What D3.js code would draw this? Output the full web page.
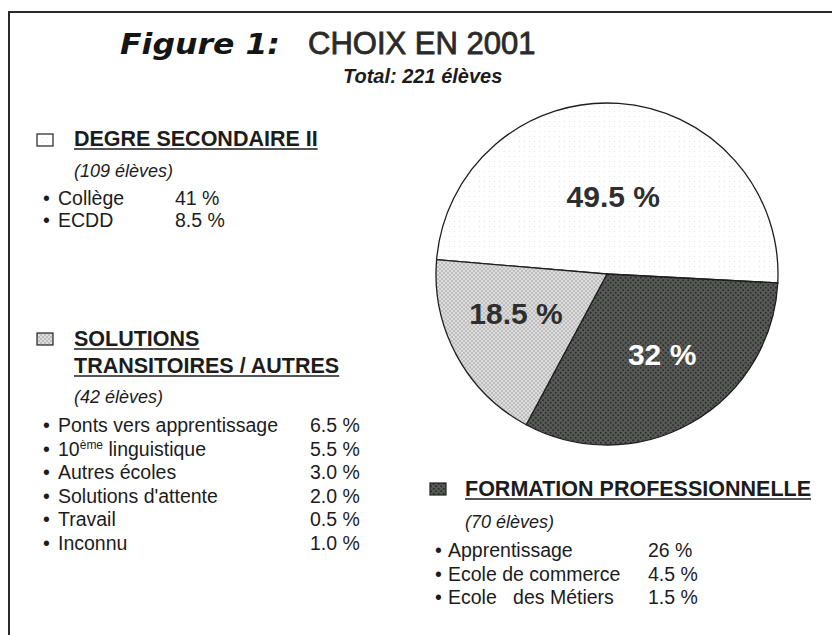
<!DOCTYPE html>
<html>
<head>
<meta charset="utf-8">
<script src="https://cdn.jsdelivr.net/npm/d3@7"></script>
<style>
  body { margin: 0; background: #fff; }
  svg text { font-family: "Liberation Sans", Arial, sans-serif; fill: #1c1c1c; }
</style>
</head>
<body>
<div class="pie-chart"></div>
<script>
// pie slices (clockwise from the secondary-school slice)
const groups = ["secondaire", "professionnelle", "transitoires"];
const shares = [49.5, 32, 18.5];
const shareLabels = ["49.5 %", "32 %", "18.5 %"];

// legend headings and student counts
const headings = [["DEGRE SECONDAIRE II"], ["FORMATION PROFESSIONNELLE"], ["SOLUTIONS", "TRANSITOIRES / AUTRES"]];
const counts = ["(109 élèves)", "(70 élèves)", "(42 élèves)"];

// detail lines per group
const secItems = ["Collège", "ECDD"];
const secValues = ["41 %", "8.5 %"];
const proItems = ["Apprentissage", "Ecole de commerce", "Ecole   des Métiers"];
const proValues = ["26 %", "4.5 %", "1.5 %"];
const traItems = ["Ponts vers apprentissage", "10ème linguistique", "Autres écoles", "Solutions d'attente", "Travail", "Inconnu"];
const traValues = ["6.5 %", "5.5 %", "3.0 %", "2.0 %", "0.5 %", "1.0 %"];

const svg = d3.select(".pie-chart").append("svg")
  .attr("width", 832)
  .attr("height", 635);

// textures
const defs = svg.append("defs");
const pWhite = defs.append("pattern").attr("id", "p-white")
  .attr("width", 5).attr("height", 5).attr("patternUnits", "userSpaceOnUse");
pWhite.append("rect").attr("width", 5).attr("height", 5).attr("fill", "#fff");
pWhite.append("circle").attr("cx", 2.5).attr("cy", 2.5).attr("r", 0.6).attr("fill", "#e4e4e4");

const pLight = defs.append("pattern").attr("id", "p-light")
  .attr("width", 4).attr("height", 4).attr("patternUnits", "userSpaceOnUse");
pLight.append("rect").attr("width", 4).attr("height", 4).attr("fill", "#bebebe");
pLight.append("circle").attr("cx", 1).attr("cy", 1).attr("r", 1).attr("fill", "#e8e8e8");
pLight.append("circle").attr("cx", 3).attr("cy", 3).attr("r", 1).attr("fill", "#e8e8e8");

const pDark = defs.append("pattern").attr("id", "p-dark")
  .attr("width", 5).attr("height", 5).attr("patternUnits", "userSpaceOnUse");
pDark.append("rect").attr("width", 5).attr("height", 5).attr("fill", "#575a57");
pDark.append("circle").attr("cx", 1.2).attr("cy", 1.2).attr("r", 1).attr("fill", "#2a2a2a");
pDark.append("circle").attr("cx", 3.7).attr("cy", 3.7).attr("r", 1).attr("fill", "#2a2a2a");

const fill = d3.scaleOrdinal()
  .domain(groups)
  .range(["url(#p-white)", "url(#p-dark)", "url(#p-light)"]);

// frame
svg.append("path")
  .attr("d", "M9,635 V12 H832")
  .attr("fill", "none")
  .attr("stroke", "#2a2a2a")
  .attr("stroke-width", 2);

// title
svg.append("text")
  .attr("x", 120).attr("y", 54)
  .attr("textLength", 160).attr("lengthAdjust", "spacingAndGlyphs")
  .style("font-family", "'DejaVu Sans', sans-serif")
  .style("font-style", "italic").style("font-weight", "bold")
  .style("font-size", "28px").style("fill", "#151515")
  .text("Figure 1:");
svg.append("text")
  .attr("x", 308).attr("y", 54)
  .style("font-size", "31px").style("fill", "#2a2a2a")
  .style("stroke", "#2a2a2a").style("stroke-width", 0.8)
  .text("CHOIX EN 2001");
svg.append("text")
  .attr("x", 343).attr("y", 83)
  .style("font-size", "20px").style("font-weight", "bold").style("font-style", "italic")
  .text("Total: 221 élèves");

// pie
const cx = 607, cy = 274, radius = 171;
const start = -85.2 * Math.PI / 180;
const pie = d3.pie().sort(null).startAngle(start).endAngle(start + 2 * Math.PI);
const arcs = pie(shares);
const arc = d3.arc().innerRadius(0).outerRadius(radius);

const pg = svg.append("g").attr("transform", `translate(${cx}, ${cy})`);
pg.selectAll("path.slice")
  .data(arcs)
  .enter()
  .append("path")
  .attr("class", "slice")
  .attr("d", arc)
  .attr("fill", (d, i) => fill(groups[i]))
  .attr("stroke", "#1e1e1e")
  .attr("stroke-width", 1.3);

// label placement: radius from centre plus a small nudge
const labelRadius = [78, 98, 99];
const labelNudge = [[1, 0], [7, -5], [-4, -8]];
pg.selectAll("text.share")
  .data(arcs)
  .enter()
  .append("text")
  .attr("class", "share")
  .attr("transform", (d, i) => {
    const c = d3.arc().innerRadius(labelRadius[i]).outerRadius(labelRadius[i]).centroid(d);
    return `translate(${c[0] + labelNudge[i][0]}, ${c[1] + labelNudge[i][1]})`;
  })
  .attr("text-anchor", "middle")
  .attr("dy", "0.36em")
  .style("font-size", "30px").style("font-weight", "bold")
  .style("fill", (d, i) => i === 1 ? "#fff" : "#2e2e2e")
  .text((d, i) => shareLabels[i]);

// legend blocks
function block(opts) {
  const g = svg.append("g");
  g.append("rect")
    .attr("x", opts.boxX).attr("y", opts.boxY)
    .attr("width", 16).attr("height", 12)
    .attr("fill", fill(opts.key))
    .attr("stroke", "#222").attr("stroke-width", 1.2);
  opts.heading.forEach((h, i) => {
    const t = g.append("text")
      .attr("x", opts.textX).attr("y", opts.headY + i * 27)
      .style("font-size", "21.5px").style("font-weight", "bold")
      .text(h);
    const w = t.node().getComputedTextLength();
    g.append("line")
      .attr("x1", opts.textX).attr("x2", opts.textX + w)
      .attr("y1", opts.headY + i * 27 + 3).attr("y2", opts.headY + i * 27 + 3)
      .attr("stroke", "#1c1c1c").attr("stroke-width", 1.6);
  });
  g.append("text")
    .attr("x", opts.textX).attr("y", opts.countY)
    .style("font-size", "18px").style("font-style", "italic")
    .text(opts.count);
  opts.items.forEach((it, i) => {
    const y = opts.itemY + i * opts.step;
    g.append("text").attr("x", opts.bulletX).attr("y", y)
      .style("font-size", "19.5px").text("•");
    const t = g.append("text").attr("x", opts.bulletX + opts.bulletGap).attr("y", y)
      .style("font-size", "19.5px").style("white-space", "pre");
    const m = it.match(/^(\d+)(ème)(.*)$/);
    if (m) {
      t.append("tspan").text(m[1]);
      t.append("tspan").attr("dy", -7).style("font-size", "12px").text(m[2]);
      t.append("tspan").attr("dy", 7).text(m[3]);
    } else {
      t.text(it);
    }
    g.append("text").attr("x", opts.valueX).attr("y", y)
      .style("font-size", "19.5px").text(opts.values[i]);
  });
}

block({key: groups[0], heading: headings[0], count: counts[0],
  boxX: 37, boxY: 134, textX: 74, headY: 146, countY: 177,
  bulletX: 43, bulletGap: 15, itemY: 205, step: 22, valueX: 175,
  items: secItems, values: secValues});

block({key: groups[2], heading: headings[2], count: counts[2],
  boxX: 37, boxY: 333, textX: 74, headY: 346, countY: 403,
  bulletX: 43, bulletGap: 15, itemY: 432, step: 23.5, valueX: 310,
  items: traItems, values: traValues});

block({key: groups[1], heading: headings[1], count: counts[1],
  boxX: 430, boxY: 483, textX: 465, headY: 496, countY: 528,
  bulletX: 435, bulletGap: 13, itemY: 557, step: 23.5, valueX: 648,
  items: proItems, values: proValues});
</script>
</body>
</html>
